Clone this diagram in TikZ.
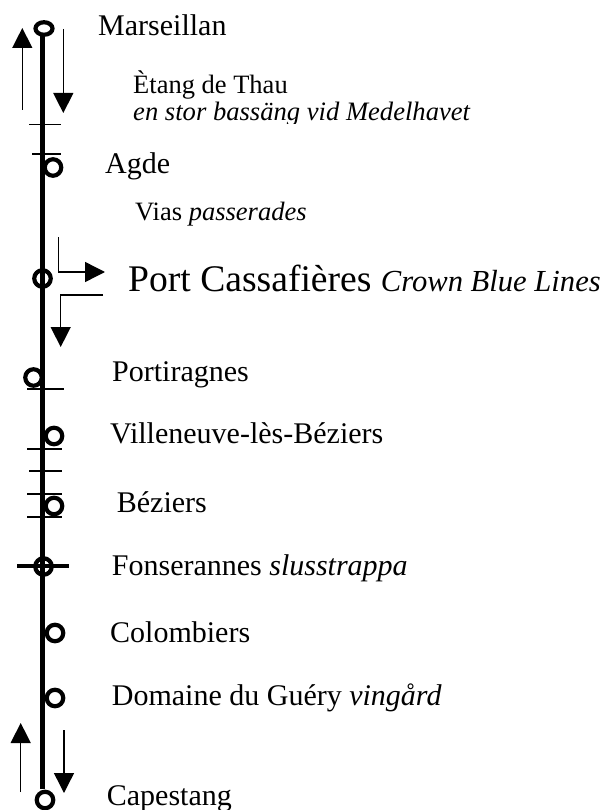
\documentclass[tikz,border=0pt]{standalone}
\usepackage{fontspec}
\setmainfont{Liberation Serif}
\usetikzlibrary{arrows.meta,shapes.geometric}
\tikzset{
  lbl/.style={anchor=base west, inner sep=0pt, font=\fontsize{30}{36}\selectfont},
  sml/.style={anchor=base west, inner sep=0pt, font=\fontsize{26.5}{30}\selectfont},
  stop/.style={draw, line width=4.2pt, circle, minimum size=16.5pt, inner sep=0pt, outer sep=0pt},
  tick/.style={line width=1.3pt},
  flow/.style={line width=1.4pt, -{Triangle[length=20pt,width=20pt]}},
  canal/.style={line width=5.5pt}
}
\begin{document}
\begin{tikzpicture}[x=1pt,y=-1pt]
\useasboundingbox (0,0) rectangle (605,810);
% canal line
\coordinate (ctop) at (42.5,33);
\coordinate (cbot) at (42.5,789);
\draw[canal] (ctop) -- (cbot);
% ticks
\foreach \ya/\xa/\xb in {124.5/29/61, 154/32/61, 389/27/64, 449/27/62, 471/29/62, 494/27/62, 517/27/62}{
  \draw[tick] (\xa,\ya) -- (\xb,\ya);
}
\coordinate (fl) at (17,566);
\coordinate (fr) at (69,566);
\draw[line width=3.2pt] (fl) -- (fr);
% stops
\node[draw, line width=4.2pt, ellipse, minimum width=17pt, minimum height=12.5pt, inner sep=0pt] (sMar) at (44,28.5) {};
\node[stop] (sAgd) at (53,167.5) {};
\node[stop] (sPor) at (42.5,278.5) {};
\node[stop] (sPtg) at (33.5,377.5) {};
\node[stop] (sVil) at (54,436) {};
\node[stop] (sBez) at (54,506) {};
\node[stop] (sFon) at (43.5,566.5) {};
\node[stop] (sCol) at (55,633) {};
\node[stop] (sDom) at (55,698) {};
\node[stop] (sCap) at (45,800) {};
% arrows
\coordinate (a1s) at (22.3,110); \coordinate (a1e) at (22.3,28);
\coordinate (a2s) at (63.3,29);  \coordinate (a2e) at (63.3,113);
\coordinate (a3s) at (58.7,237); \coordinate (a3m) at (58.7,272); \coordinate (a3e) at (105,272);
\coordinate (a4s) at (103,295);  \coordinate (a4m) at (60.7,295); \coordinate (a4e) at (60.7,347);
\coordinate (a5s) at (20.7,792); \coordinate (a5e) at (20.7,723);
\coordinate (a6s) at (64,730);   \coordinate (a6e) at (64,793);
\draw[flow] (a1s) -- (a1e);
\draw[flow] (a2s) -- (a2e);
\draw[flow] (a3s) -- (a3m) -- (a3e);
\draw[flow] (a4s) -- (a4m) -- (a4e);
\draw[flow] (a5s) -- (a5e);
\draw[flow] (a6s) -- (a6e);
% labels
\node[lbl] (tMar) at (98,36) {Marseillan};
\node[sml] (tEta) at (133,94) {Ètang de Thau};
\begin{scope}
  \clip (100,100) rectangle (605,123.5);
  \node[sml, font=\fontsize{26.6}{30}\selectfont\itshape] (tMed) at (133,121) {en stor bassäng vid Medelhavet};
\end{scope}
\node[lbl] (tAgd) at (105,174) {Agde};
\node[sml] (tVia) at (135,220.5) {Vias \textit{passerades}};
\node[anchor=base west, inner sep=0pt] (tPor) at (128,291) {\fontsize{37.6}{44}\selectfont Port Cassafières \fontsize{30.6}{36}\selectfont\itshape Crown Blue Lines};
\node[lbl] (tPtg) at (112,381) {Portiragnes};
\node[lbl] (tVil) at (110,443) {Villeneuve-lès-Béziers};
\node[lbl] (tBez) at (116.7,512) {Béziers};
\node[lbl] (tFon) at (111.7,575) {Fonserannes \textit{slusstrappa}};
\node[lbl] (tCol) at (110,642) {Colombiers};
\node[lbl] (tDom) at (111.7,705) {Domaine du Guéry \textit{vingård}};
\node[lbl] (tCap) at (106.7,805) {Capestang};
\end{tikzpicture}
\end{document}
